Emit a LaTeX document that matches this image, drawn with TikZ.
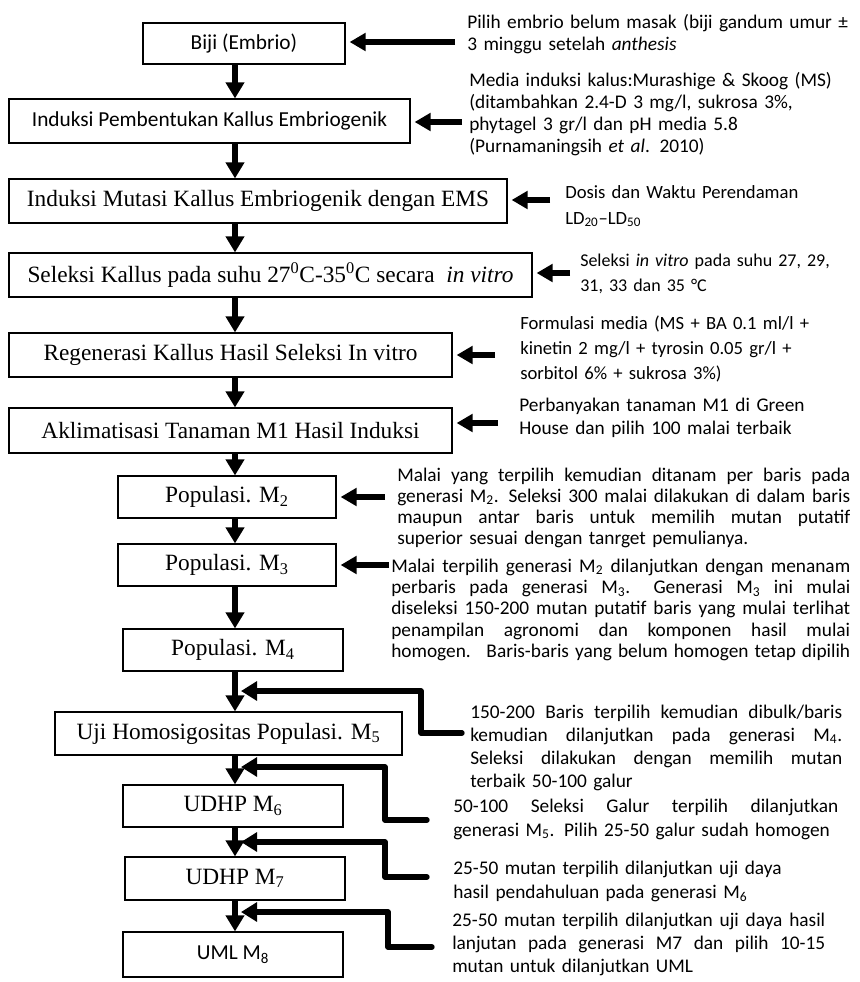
\documentclass[tikz,border=0pt]{standalone}
\usepackage{fontspec}
\setmainfont{Liberation Serif}
\newfontfamily\calibri{Carlito}
\usetikzlibrary{arrows.meta}
\newcommand{\rata}[2]{\leavevmode\hbox to #1{\spaceskip=.226em plus 1em minus .03em #2}}

\begin{document}
\begin{tikzpicture}[x=0.75pt,y=-0.75pt,
    tahap/.style ={draw, line width=0.9pt, inner sep=0pt, font=\fontsize{17.5}{21}\selectfont},
    tahapsans/.style ={tahap, font=\calibri\fontsize{16}{19}\selectfont},
    ket/.style ={anchor=base west, inner sep=0pt, align=left, font=\calibri\fontsize{14.5}{16.5}\selectfont},
    turun/.style ={line width=5pt, -{Triangle[length=12pt,width=13.5pt]}},
    panah/.style ={line width=4.5pt, -{Triangle[length=12pt,width=13pt]}, shorten >=3pt},
    balik/.style ={line width=4pt, line cap=round, line join=round, -{Triangle[length=12pt,width=14pt]}}]
   \useasboundingbox (0,0) rectangle (860,982);
   \coordinate (tr) at (235,0);

   \node[tahapsans, minimum width=151.5pt, minimum height=30.75pt] (biji) at (244,43.5) {Biji (Embrio)};
   \node[tahapsans, minimum width=300.75pt, minimum height=33pt] (induksi) at (209.5,121) {Induksi Pembentukan Kallus Embriogenik};
   \node[tahap, minimum width=373.5pt, minimum height=33pt] (mutasi) at (258,201) {Induksi Mutasi Kallus Embriogenik dengan EMS};
   \node[tahap, minimum width=392.25pt, minimum height=33pt] (seleksi) at (270.5,275) {Seleksi Kallus pada suhu 27\textsuperscript{0}C-35\textsuperscript{0}C secara \ \textit{in vitro}};
   \node[tahap, minimum width=332.25pt, minimum height=33pt] (regen) at (230.5,355) {Regenerasi Kallus Hasil Seleksi In vitro};
   \node[tahap, minimum width=332.25pt, minimum height=33.75pt] (aklim) at (230.5,430.5) {Aklimatisasi Tanaman M1 Hasil Induksi};
   \node[tahap, minimum width=163.5pt, minimum height=31.5pt] (popdua) at (227,497) {Populasi. M\textsubscript{2}};
   \node[tahap, minimum width=163.5pt, minimum height=31.5pt] (poptiga) at (227,565) {Populasi. M\textsubscript{3}};
   \node[tahap, minimum width=165pt, minimum height=31.5pt] (popempat) at (233,650) {Populasi. M\textsubscript{4}};
   \node[tahap, minimum width=260.25pt, minimum height=32.25pt] (uji) at (228.5,733.5) {Uji Homosigositas Populasi. M\textsubscript{5}};
   \node[tahap, minimum width=165pt, minimum height=31.5pt] (udhpenam) at (233,806) {UDHP M\textsubscript{6}};
   \node[tahap, minimum width=165pt, minimum height=32.25pt] (udhptujuh) at (235,878.5) {UDHP M\textsubscript{7}};
   \node[tahapsans, minimum width=165pt, minimum height=33.75pt] (uml) at (233,954.5) {UML M\textsubscript{8}};

   \draw[turun] (biji.south -| tr) -- (induksi.north -| tr);
   \draw[turun] (induksi.south -| tr) -- (mutasi.north -| tr);
   \draw[turun] (mutasi.south -| tr) -- (seleksi.north -| tr);
   \draw[turun] (seleksi.south -| tr) -- (regen.north -| tr);
   \draw[turun] (regen.south -| tr) -- (aklim.north -| tr);
   \draw[turun] (aklim.south -| tr) -- (popdua.north -| tr);
   \draw[turun] (popdua.south -| tr) -- (poptiga.north -| tr);
   \draw[turun] (poptiga.south -| tr) -- (popempat.north -| tr);
   \draw[turun] (popempat.south -| tr) -- (uji.north -| tr);
   \draw[turun] (uji.south -| tr) -- (udhpenam.north -| tr);
   \draw[turun] (udhpenam.south -| tr) -- (udhptujuh.north -| tr);
   \draw[turun] (udhptujuh.south -| tr) -- (uml.north -| tr);

   \node[ket, text width=295pt] (k1) at (467,28) {Pilih embrio belum masak (biji gandum umur ±\\3 minggu setelah \textit{anthesis}};
   \node[ket, text width=290pt] (k2) at (469,86) {Media induksi kalus:Murashige \& Skoog (MS)\\(ditambahkan 2.4-D 3 mg/l, sukrosa 3\%,\\phytagel 3 gr/l dan pH media 5.8\\(Purnamaningsih \textit{et al}. 2010)};
   \node[ket, text width=215pt, font=\calibri\fontsize{14}{19.5}\selectfont] (k3) at (565,198) {Dosis dan Waktu Perendaman\\LD\textsubscript{20}–LD\textsubscript{50}};
   \node[ket, text width=205pt, font=\calibri\fontsize{13.5}{18.75}\selectfont] (k4) at (580,266) {Seleksi \textit{in vitro} pada suhu 27, 29,\\31, 33 dan 35 °C};
   \node[ket, text width=250pt, font=\calibri\fontsize{14}{18.75}\selectfont] (k5) at (520,329) {Formulasi media (MS + BA 0.1 ml/l +\\kinetin 2 mg/l + tyrosin 0.05 gr/l +\\sorbitol 6\% + sukrosa 3\%)};
   \node[ket, text width=250pt, font=\calibri\fontsize{14.5}{17.25}\selectfont] (k6) at (519,411) {Perbanyakan tanaman M1 di Green\\House dan pilih 100 malai terbaik};
   \node[ket, text width=339.75pt, font=\calibri\fontsize{14.5}{15.75}\selectfont] (k7) at (397,481) {\rata{339.75pt}{Malai yang terpilih kemudian ditanam per baris pada}\\\rata{339.75pt}{generasi M\textsubscript{2}. Seleksi 300 malai dilakukan di dalam baris}\\\rata{339.75pt}{maupun antar baris untuk memilih mutan putatif}\\superior sesuai dengan tanrget pemulianya.};
   \node[ket, text width=344.25pt, font=\calibri\fontsize{14.5}{16}\selectfont] (k8) at (391,572) {\rata{344.25pt}{Malai terpilih generasi M\textsubscript{2} dilanjutkan dengan menanam}\\\rata{344.25pt}{perbaris pada generasi M\textsubscript{3}. \ Generasi M\textsubscript{3} ini mulai}\\\rata{344.25pt}{diseleksi 150-200 mutan putatif baris yang mulai terlihat}\\\rata{344.25pt}{penampilan agronomi dan komponen hasil mulai}\\\rata{344.25pt}{homogen. \ Baris-baris yang belum homogen tetap dipilih}};
   \node[ket, text width=279pt, font=\calibri\fontsize{14.5}{17.3}\selectfont] (k9) at (470,718) {\rata{279pt}{150-200 Baris terpilih kemudian dibulk/baris}\\\rata{279pt}{kemudian dilanjutkan pada generasi M\textsubscript{4}.}\\\rata{279pt}{Seleksi dilakukan dengan memilih mutan}\\terbaik 50-100 galur};
   \node[ket, text width=288.75pt, font=\calibri\fontsize{14.5}{18}\selectfont] (k10) at (453,812) {\rata{288.75pt}{50-100 Seleksi Galur terpilih dilanjutkan}\\generasi M\textsubscript{5}. Pilih 25-50 galur sudah homogen};
   \node[ket, text width=300pt, font=\calibri\fontsize{14.5}{18.5}\selectfont] (k11) at (453,874) {25-50 mutan terpilih dilanjutkan uji daya\\hasil pendahuluan pada generasi M\textsubscript{6}};
   \node[ket, text width=279.75pt, font=\calibri\fontsize{14.5}{17.3}\selectfont] (k12) at (452,926) {\rata{279.75pt}{25-50 mutan terpilih dilanjutkan uji daya hasil}\\\rata{279.75pt}{lanjutan pada generasi M7 dan pilih 10-15}\\mutan untuk dilanjutkan UML};

   \coordinate (e1) at (455,42);
   \coordinate (e2) at (462,122);
   \coordinate (e3) at (550,200);
   \coordinate (e4) at (570,273);
   \coordinate (e5) at (495,355);
   \coordinate (e6) at (498,423);
   \coordinate (e7) at (385,497);
   \coordinate (e8) at (389,565);
   \draw[panah] (e1) -- (e1 -| biji.east);
   \draw[panah] (e2) -- (e2 -| induksi.east);
   \draw[panah] (e3) -- (e3 -| mutasi.east);
   \draw[panah] (e4) -- (e4 -| seleksi.east);
   \draw[panah] (e5) -- (e5 -| regen.east);
   \draw[panah] (e6) -- (e6 -| aklim.east);
   \draw[panah] (e7) -- (e7 -| popdua.east);
   \draw[panah] (e8) -- (e8 -| poptiga.east);

   \coordinate (s1) at (462,733);
   \coordinate (b1) at (421,691);
   \coordinate (p1) at (241,691);
   \coordinate (s2) at (427,820);
   \coordinate (b2) at (385,767);
   \coordinate (p2) at (241,767);
   \coordinate (s3) at (427,877);
   \coordinate (b3) at (385,842);
   \coordinate (p3) at (241,842);
   \coordinate (s4) at (432,947);
   \coordinate (b4) at (388,912);
   \coordinate (p4) at (241,912);
   \draw[balik] (s1) -| (b1) -- (p1);
   \draw[balik] (s2) -| (b2) -- (p2);
   \draw[balik] (s3) -| (b3) -- (p3);
   \draw[balik] (s4) -| (b4) -- (p4);
 \end{tikzpicture}
\end{document}
